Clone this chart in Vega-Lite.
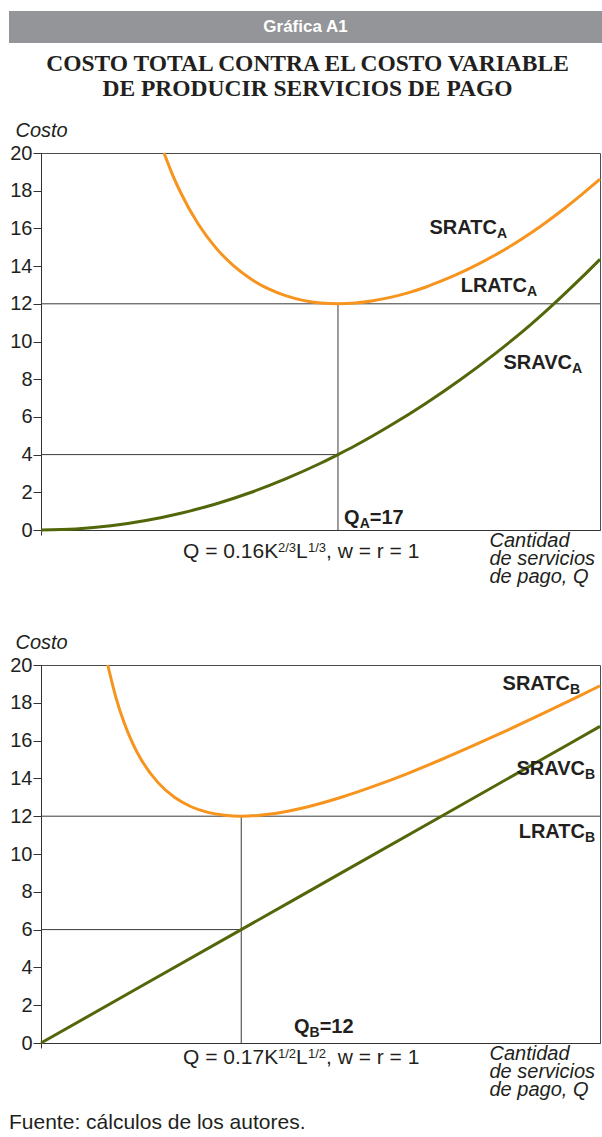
{
  "$schema": "https://vega.github.io/schema/vega-lite/v6.json",
  "padding": {"left": 9, "top": 11, "right": 0, "bottom": 0},
  "background": "white",
  "title": {"text": "Fuente: cálculos de los autores.", "orient": "bottom", "anchor": "start", "font": "Liberation Sans", "fontSize": 21, "fontWeight": "normal", "color": "#231f20", "offset": 12},
  "datasets": {
    "curvesA": [
      {"q": 7.04, "c": 20.0, "serie": "SRATC"}, {"q": 7.5, "c": 18.91, "serie": "SRATC"}, {"q": 8, "c": 17.89, "serie": "SRATC"},
      {"q": 9, "c": 16.23, "serie": "SRATC"}, {"q": 10, "c": 14.98, "serie": "SRATC"}, {"q": 11, "c": 14.04, "serie": "SRATC"},
      {"q": 12, "c": 13.33, "serie": "SRATC"}, {"q": 13, "c": 12.8, "serie": "SRATC"}, {"q": 14, "c": 12.43, "serie": "SRATC"},
      {"q": 15, "c": 12.18, "serie": "SRATC"}, {"q": 16, "c": 12.04, "serie": "SRATC"}, {"q": 17, "c": 12.0, "serie": "SRATC"},
      {"q": 18, "c": 12.04, "serie": "SRATC"}, {"q": 19, "c": 12.16, "serie": "SRATC"}, {"q": 20, "c": 12.34, "serie": "SRATC"},
      {"q": 21, "c": 12.58, "serie": "SRATC"}, {"q": 22, "c": 12.88, "serie": "SRATC"}, {"q": 23, "c": 13.24, "serie": "SRATC"},
      {"q": 24, "c": 13.64, "serie": "SRATC"}, {"q": 25, "c": 14.09, "serie": "SRATC"}, {"q": 26, "c": 14.59, "serie": "SRATC"},
      {"q": 27, "c": 15.13, "serie": "SRATC"}, {"q": 28, "c": 15.73, "serie": "SRATC"}, {"q": 29, "c": 16.38, "serie": "SRATC"},
      {"q": 30, "c": 17.08, "serie": "SRATC"}, {"q": 31, "c": 17.83, "serie": "SRATC"}, {"q": 32, "c": 18.61, "serie": "SRATC"},
      {"q": 0, "c": 0, "serie": "SRAVC"}, {"q": 2, "c": 0.055, "serie": "SRAVC"}, {"q": 4, "c": 0.22, "serie": "SRAVC"},
      {"q": 6, "c": 0.5, "serie": "SRAVC"}, {"q": 8, "c": 0.89, "serie": "SRAVC"}, {"q": 10, "c": 1.38, "serie": "SRAVC"},
      {"q": 12, "c": 1.99, "serie": "SRAVC"}, {"q": 14, "c": 2.71, "serie": "SRAVC"}, {"q": 16, "c": 3.54, "serie": "SRAVC"},
      {"q": 17, "c": 4.0, "serie": "SRAVC"}, {"q": 18, "c": 4.48, "serie": "SRAVC"}, {"q": 20, "c": 5.54, "serie": "SRAVC"},
      {"q": 22, "c": 6.7, "serie": "SRAVC"}, {"q": 24, "c": 7.97, "serie": "SRAVC"}, {"q": 26, "c": 9.36, "serie": "SRAVC"},
      {"q": 28, "c": 10.87, "serie": "SRAVC"}, {"q": 29, "c": 11.69, "serie": "SRAVC"}, {"q": 30, "c": 12.55, "serie": "SRAVC"},
      {"q": 31, "c": 13.44, "serie": "SRAVC"}, {"q": 32, "c": 14.36, "serie": "SRAVC"}
    ],
    "curvesB": [
      {"q": 4, "c": 20.0, "serie": "SRATC"}, {"q": 4.5, "c": 18.25, "serie": "SRATC"}, {"q": 5, "c": 16.9, "serie": "SRATC"},
      {"q": 5.5, "c": 15.84, "serie": "SRATC"}, {"q": 6, "c": 15.0, "serie": "SRATC"}, {"q": 7, "c": 13.79, "serie": "SRATC"},
      {"q": 8, "c": 13.0, "serie": "SRATC"}, {"q": 9, "c": 12.5, "serie": "SRATC"}, {"q": 10, "c": 12.2, "serie": "SRATC"},
      {"q": 11, "c": 12.05, "serie": "SRATC"}, {"q": 12, "c": 12.0, "serie": "SRATC"}, {"q": 13, "c": 12.04, "serie": "SRATC"},
      {"q": 14, "c": 12.14, "serie": "SRATC"}, {"q": 15, "c": 12.3, "serie": "SRATC"}, {"q": 16, "c": 12.5, "serie": "SRATC"},
      {"q": 18, "c": 13.0, "serie": "SRATC"}, {"q": 20, "c": 13.6, "serie": "SRATC"}, {"q": 22, "c": 14.27, "serie": "SRATC"},
      {"q": 24, "c": 15.0, "serie": "SRATC"}, {"q": 26, "c": 15.77, "serie": "SRATC"}, {"q": 28, "c": 16.57, "serie": "SRATC"},
      {"q": 30, "c": 17.4, "serie": "SRATC"}, {"q": 32, "c": 18.25, "serie": "SRATC"}, {"q": 33.5, "c": 18.9, "serie": "SRATC"},
      {"q": 0, "c": 0, "serie": "SRAVC"}, {"q": 6, "c": 3, "serie": "SRAVC"}, {"q": 12, "c": 6, "serie": "SRAVC"},
      {"q": 18, "c": 9, "serie": "SRAVC"}, {"q": 24, "c": 12, "serie": "SRAVC"}, {"q": 30, "c": 15, "serie": "SRAVC"},
      {"q": 33.5, "c": 16.75, "serie": "SRAVC"}
    ],
    "guidesA": [
      {"q": 0, "q2": 32, "c": 12, "c2": 12},
      {"q": 0, "q2": 17, "c": 4, "c2": 4},
      {"q": 17, "q2": 17, "c": 0, "c2": 12}
    ],
    "guidesB": [
      {"q": 0, "q2": 33.5, "c": 12, "c2": 12},
      {"q": 0, "q2": 12, "c": 6, "c2": 6},
      {"q": 12, "q2": 12, "c": 0, "c2": 12}
    ],
    "labelsA": [
      {"q": 26.1, "c": 15.7, "main": "SRATC", "sub": "A"},
      {"q": 27.82, "c": 12.63, "main": "LRATC", "sub": "A"},
      {"q": 30.4, "c": 8.54, "main": "SRAVC", "sub": "A"}
    ],
    "labelsB": [
      {"q": 31.7, "c": 18.68, "main": "SRATC", "sub": "B"},
      {"q": 32.6, "c": 14.18, "main": "SRAVC", "sub": "B"},
      {"q": 32.6, "c": 10.85, "main": "LRATC", "sub": "B"}
    ],
    "qA": [{"q": 17.35, "c": 0.32, "t1": "Q", "t2": "A", "t3": "=17"}],
    "qB": [{"q": 15.16, "c": 0.55, "t1": "Q", "t2": "B", "t3": "=12"}],
    "fA": [{"q": 8.13, "c": -1.485, "f1": "Q = 0.16K", "f2": "2/3", "f3": "L", "f4": "1/3", "f5": ", w = r = 1"}],
    "fB": [{"q": 8.51, "c": -1.1, "f1": "Q = 0.17K", "f2": "1/2", "f3": "L", "f4": "1/2", "f5": ", w = r = 1"}]
  },
  "spacing": 0,
  "vconcat": [
    {
      "width": 561, "height": 32,
      "view": {"stroke": null},
      "data": {"values": [{"t": "Gráfica A1"}]},
      "layer": [
        {
          "mark": {"type": "rect", "color": "#939598"},
          "encoding": {
            "x": {"datum": 0, "type": "quantitative", "scale": {"domain": [0, 1], "range": [-32, 561]}, "axis": null},
            "x2": {"datum": 1}
          }
        },
        {
          "mark": {"type": "text", "font": "Liberation Sans", "fontWeight": "bold", "fontSize": 17, "color": "white"},
          "encoding": {
            "x": {"datum": 0.5, "type": "quantitative"},
            "text": {"field": "t", "type": "nominal"}
          }
        }
      ]
    },
    {
      "width": 561, "height": 76,
      "view": {"stroke": null},
      "data": {"values": [{"t": 1}]},
      "mark": {"type": "text", "text": ["COSTO TOTAL CONTRA EL COSTO VARIABLE", "DE PRODUCIR SERVICIOS DE PAGO"], "font": "Liberation Serif", "fontWeight": "bold", "fontSize": 23.5, "lineHeight": 25, "dy": -17, "dx": -14, "color": "#231f20"}
    },
    {
      "spacing": 44,
      "vconcat": [
        {
          "width": 559, "height": 377,
          "layer": [
            {
              "data": {"name": "guidesA"},
              "mark": {"type": "rule", "color": "#3a3a3a", "strokeWidth": 1},
              "encoding": {
                "x": {"field": "q", "type": "quantitative", "scale": {"domain": [0, 32], "nice": false},
                  "axis": {"values": [0], "labels": false, "tickSize": 5, "title": ["Cantidad", "de servicios", "de pago, Q"], "titleX": 448, "titleY": 16, "titleAlign": "left", "titleBaseline": "alphabetic", "titleLineHeight": 18, "titleFontStyle": "italic", "titleFontWeight": "normal", "titleFontSize": 20}},
                "x2": {"field": "q2"},
                "y": {"field": "c", "type": "quantitative", "scale": {"domain": [0, 20], "nice": false},
                  "axis": {"values": [0, 2, 4, 6, 8, 10, 12, 14, 16, 18, 20], "tickCount": 11, "labelOverlap": false, "title": "Costo", "titleAngle": 0, "titleX": -26, "titleY": -17, "titleAlign": "left", "titleBaseline": "alphabetic", "titleFontStyle": "italic", "titleFontWeight": "normal", "titleFontSize": 20, "labelFontSize": 20, "tickSize": 8, "labelPadding": 1}},
                "y2": {"field": "c2"}
              }
            },
            {
              "data": {"name": "curvesA"},
              "mark": {"type": "line", "strokeWidth": 3, "interpolate": "monotone"},
              "encoding": {
                "x": {"field": "q", "type": "quantitative"},
                "y": {"field": "c", "type": "quantitative"},
                "color": {"field": "serie", "type": "nominal", "scale": {"domain": ["SRATC", "SRAVC"], "range": ["#F7941E", "#52670a"]}, "legend": null}
              }
            },
            {
              "data": {"name": "labelsA"},
              "mark": {"type": "text", "align": "right", "baseline": "alphabetic", "fontWeight": "bold", "fontSize": 20},
              "encoding": {"x": {"field": "q", "type": "quantitative"}, "y": {"field": "c", "type": "quantitative"}, "text": {"field": "main"}}
            },
            {
              "data": {"name": "labelsA"},
              "mark": {"type": "text", "align": "left", "baseline": "alphabetic", "fontWeight": "bold", "fontSize": 14, "dy": 4},
              "encoding": {"x": {"field": "q", "type": "quantitative"}, "y": {"field": "c", "type": "quantitative"}, "text": {"field": "sub"}}
            },
            {
              "data": {"name": "qA"},
              "mark": {"type": "text", "align": "left", "baseline": "alphabetic", "fontWeight": "bold", "fontSize": 20},
              "encoding": {"x": {"field": "q", "type": "quantitative"}, "y": {"field": "c", "type": "quantitative"}, "text": {"field": "t1"}}
            },
            {
              "data": {"name": "qA"},
              "mark": {"type": "text", "align": "left", "baseline": "alphabetic", "fontWeight": "bold", "fontSize": 14, "dx": 15.6, "dy": 4},
              "encoding": {"x": {"field": "q", "type": "quantitative"}, "y": {"field": "c", "type": "quantitative"}, "text": {"field": "t2"}}
            },
            {
              "data": {"name": "qA"},
              "mark": {"type": "text", "align": "left", "baseline": "alphabetic", "fontWeight": "bold", "fontSize": 20, "dx": 25.7},
              "encoding": {"x": {"field": "q", "type": "quantitative"}, "y": {"field": "c", "type": "quantitative"}, "text": {"field": "t3"}}
            },
            {
              "data": {"name": "fA"},
              "mark": {"type": "text", "align": "left", "baseline": "alphabetic", "fontSize": 21},
              "encoding": {"x": {"field": "q", "type": "quantitative"}, "y": {"field": "c", "type": "quantitative"}, "text": {"field": "f1"}}
            },
            {
              "data": {"name": "fA"},
              "mark": {"type": "text", "align": "left", "baseline": "alphabetic", "fontSize": 13, "dx": 95, "dy": -6},
              "encoding": {"x": {"field": "q", "type": "quantitative"}, "y": {"field": "c", "type": "quantitative"}, "text": {"field": "f2"}}
            },
            {
              "data": {"name": "fA"},
              "mark": {"type": "text", "align": "left", "baseline": "alphabetic", "fontSize": 21, "dx": 113},
              "encoding": {"x": {"field": "q", "type": "quantitative"}, "y": {"field": "c", "type": "quantitative"}, "text": {"field": "f3"}}
            },
            {
              "data": {"name": "fA"},
              "mark": {"type": "text", "align": "left", "baseline": "alphabetic", "fontSize": 13, "dx": 125, "dy": -6},
              "encoding": {"x": {"field": "q", "type": "quantitative"}, "y": {"field": "c", "type": "quantitative"}, "text": {"field": "f4"}}
            },
            {
              "data": {"name": "fA"},
              "mark": {"type": "text", "align": "left", "baseline": "alphabetic", "fontSize": 21, "dx": 143},
              "encoding": {"x": {"field": "q", "type": "quantitative"}, "y": {"field": "c", "type": "quantitative"}, "text": {"field": "f5"}}
            }
          ]
        },
        {
          "width": 559, "height": 378,
          "layer": [
            {
              "data": {"name": "guidesB"},
              "mark": {"type": "rule", "color": "#3a3a3a", "strokeWidth": 1},
              "encoding": {
                "x": {"field": "q", "type": "quantitative", "scale": {"domain": [0, 33.5], "nice": false},
                  "axis": {"values": [0], "labels": false, "tickSize": 5, "title": ["Cantidad", "de servicios", "de pago, Q"], "titleX": 448, "titleY": 16, "titleAlign": "left", "titleBaseline": "alphabetic", "titleLineHeight": 18, "titleFontStyle": "italic", "titleFontWeight": "normal", "titleFontSize": 20}},
                "x2": {"field": "q2"},
                "y": {"field": "c", "type": "quantitative", "scale": {"domain": [0, 20], "nice": false},
                  "axis": {"values": [0, 2, 4, 6, 8, 10, 12, 14, 16, 18, 20], "tickCount": 11, "labelOverlap": false, "title": "Costo", "titleAngle": 0, "titleX": -26, "titleY": -17, "titleAlign": "left", "titleBaseline": "alphabetic", "titleFontStyle": "italic", "titleFontWeight": "normal", "titleFontSize": 20, "labelFontSize": 20, "tickSize": 8, "labelPadding": 1}},
                "y2": {"field": "c2"}
              }
            },
            {
              "data": {"name": "curvesB"},
              "mark": {"type": "line", "strokeWidth": 3, "interpolate": "monotone"},
              "encoding": {
                "x": {"field": "q", "type": "quantitative"},
                "y": {"field": "c", "type": "quantitative"},
                "color": {"field": "serie", "type": "nominal", "scale": {"domain": ["SRATC", "SRAVC"], "range": ["#F7941E", "#52670a"]}, "legend": null}
              }
            },
            {
              "data": {"name": "labelsB"},
              "mark": {"type": "text", "align": "right", "baseline": "alphabetic", "fontWeight": "bold", "fontSize": 20},
              "encoding": {"x": {"field": "q", "type": "quantitative"}, "y": {"field": "c", "type": "quantitative"}, "text": {"field": "main"}}
            },
            {
              "data": {"name": "labelsB"},
              "mark": {"type": "text", "align": "left", "baseline": "alphabetic", "fontWeight": "bold", "fontSize": 14, "dy": 4},
              "encoding": {"x": {"field": "q", "type": "quantitative"}, "y": {"field": "c", "type": "quantitative"}, "text": {"field": "sub"}}
            },
            {
              "data": {"name": "qB"},
              "mark": {"type": "text", "align": "left", "baseline": "alphabetic", "fontWeight": "bold", "fontSize": 20},
              "encoding": {"x": {"field": "q", "type": "quantitative"}, "y": {"field": "c", "type": "quantitative"}, "text": {"field": "t1"}}
            },
            {
              "data": {"name": "qB"},
              "mark": {"type": "text", "align": "left", "baseline": "alphabetic", "fontWeight": "bold", "fontSize": 14, "dx": 15.6, "dy": 4},
              "encoding": {"x": {"field": "q", "type": "quantitative"}, "y": {"field": "c", "type": "quantitative"}, "text": {"field": "t2"}}
            },
            {
              "data": {"name": "qB"},
              "mark": {"type": "text", "align": "left", "baseline": "alphabetic", "fontWeight": "bold", "fontSize": 20, "dx": 25.7},
              "encoding": {"x": {"field": "q", "type": "quantitative"}, "y": {"field": "c", "type": "quantitative"}, "text": {"field": "t3"}}
            },
            {
              "data": {"name": "fB"},
              "mark": {"type": "text", "align": "left", "baseline": "alphabetic", "fontSize": 21},
              "encoding": {"x": {"field": "q", "type": "quantitative"}, "y": {"field": "c", "type": "quantitative"}, "text": {"field": "f1"}}
            },
            {
              "data": {"name": "fB"},
              "mark": {"type": "text", "align": "left", "baseline": "alphabetic", "fontSize": 13, "dx": 95, "dy": -6},
              "encoding": {"x": {"field": "q", "type": "quantitative"}, "y": {"field": "c", "type": "quantitative"}, "text": {"field": "f2"}}
            },
            {
              "data": {"name": "fB"},
              "mark": {"type": "text", "align": "left", "baseline": "alphabetic", "fontSize": 21, "dx": 113},
              "encoding": {"x": {"field": "q", "type": "quantitative"}, "y": {"field": "c", "type": "quantitative"}, "text": {"field": "f3"}}
            },
            {
              "data": {"name": "fB"},
              "mark": {"type": "text", "align": "left", "baseline": "alphabetic", "fontSize": 13, "dx": 125, "dy": -6},
              "encoding": {"x": {"field": "q", "type": "quantitative"}, "y": {"field": "c", "type": "quantitative"}, "text": {"field": "f4"}}
            },
            {
              "data": {"name": "fB"},
              "mark": {"type": "text", "align": "left", "baseline": "alphabetic", "fontSize": 21, "dx": 143},
              "encoding": {"x": {"field": "q", "type": "quantitative"}, "y": {"field": "c", "type": "quantitative"}, "text": {"field": "f5"}}
            }
          ]
        }
      ]
    }
  ],
  "config": {
    "font": "Liberation Sans",
    "view": {"stroke": "#4d4d4d", "strokeWidth": 1},
    "axis": {"domainColor": "#333333", "tickColor": "#333333", "labelColor": "#231f20", "titleColor": "#231f20", "labelFont": "Liberation Sans", "titleFont": "Liberation Sans", "grid": false, "domainWidth": 1, "tickWidth": 1},
    "text": {"font": "Liberation Sans", "color": "#231f20"}
  }
}
